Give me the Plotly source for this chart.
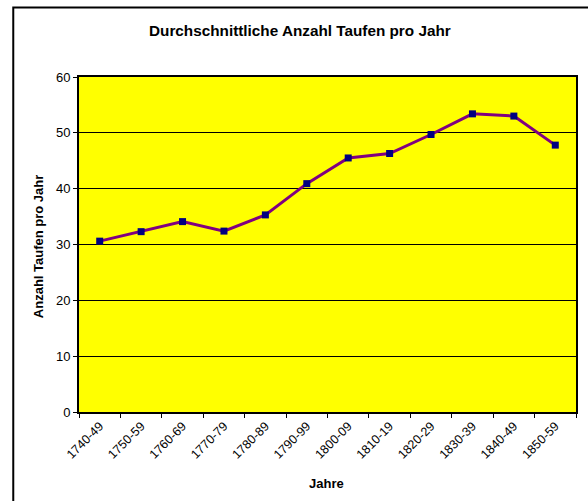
import plotly.graph_objects as go

categories = ["1740-49", "1750-59", "1760-69", "1770-79", "1780-89", "1790-99",
              "1800-09", "1810-19", "1820-29", "1830-39", "1840-49", "1850-59"]
values = [30.6, 32.3, 34.1, 32.4, 35.3, 40.9, 45.5, 46.3, 49.7, 53.4, 53.0, 47.8]
y_ticks = [0, 10, 20, 30, 40, 50, 60]

W, H = 588, 501
L, T, pw, ph = 79, 77, 499, 335
R, B = W - L - pw, H - T - ph

fig = go.Figure()
fig.add_trace(go.Scatter(
    x=categories, y=values, mode="lines+markers",
    line=dict(color="#800080", width=3),
    marker=dict(symbol="square", size=7, color="#000080", line=dict(width=0)),
    showlegend=False,
))

font = "Liberation Sans, Arial, sans-serif"


def px(x):
    return (x - L) / pw


def py(y):
    return 1 - (y - T) / ph


fig.update_layout(
    width=W, height=H,
    margin=dict(l=L, r=R, t=T, b=B),
    paper_bgcolor="white",
    plot_bgcolor="#FFFF00",
    font=dict(family=font, size=13, color="black"),
    xaxis=dict(
        type="category", tickson="boundaries", ticks="outside", ticklen=4,
        tickcolor="black", tickwidth=1, tickangle=-45,
        showline=True, linecolor="black", linewidth=2, mirror=True,
        showgrid=False, tickfont=dict(size=12.5), range=[-0.5, 11.5],
    ),
    yaxis=dict(
        range=[0, 60], tickvals=y_ticks, ticks="outside", ticklen=4,
        tickcolor="black", showline=True, linecolor="black", linewidth=2,
        mirror=True, showgrid=True, gridcolor="black", gridwidth=1,
        zeroline=False, tickfont=dict(size=13),
    ),
    annotations=[
        dict(text="<b>Durchschnittliche Anzahl Taufen pro Jahr</b>",
             xref="paper", yref="paper", x=px(301), y=py(31),
             xanchor="center", yanchor="middle", showarrow=False,
             font=dict(size=15.3, family=font)),
        dict(text="<b>Anzahl Taufen pro Jahr</b>", textangle=-90,
             xref="paper", yref="paper", x=px(38), y=py(246),
             xanchor="center", yanchor="middle", showarrow=False,
             font=dict(size=13, family=font)),
        dict(text="<b>Jahre</b>",
             xref="paper", yref="paper", x=px(327), y=py(483),
             xanchor="center", yanchor="middle", showarrow=False,
             font=dict(size=13, family=font)),
    ],
    shapes=[
        dict(type="rect", xref="paper", yref="paper",
             x0=px(13), x1=px(600), y0=py(520), y1=py(7.5),
             line=dict(color="black", width=2), fillcolor="rgba(0,0,0,0)",
             layer="above"),
    ],
)

fig.write_html("out.html", config={"displayModeBar": False},
               post_script="document.body.style.margin='0px';")
